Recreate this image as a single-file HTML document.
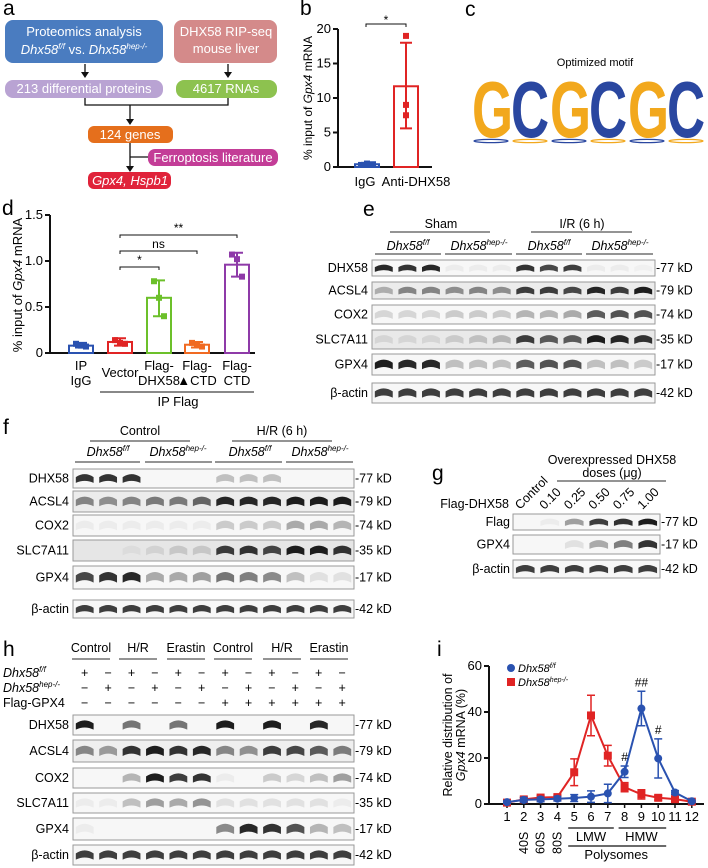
<!DOCTYPE html>
<html><head><meta charset="utf-8"><style>
body{margin:0;background:#fff}
svg{font-family:"Liberation Sans",Arial,sans-serif;display:block}
.pl{font-size:21px}
</style></head><body>
<svg id="fig" width="708" height="868" viewBox="0 0 708 868">
<g>
<text class="pl" x="3" y="15">a</text>
<rect x="5" y="20" width="158" height="43" rx="8" fill="#4a7cc0"/>
<text x="84" y="36" fill="#fff" font-size="13" text-anchor="middle">Proteomics analysis</text>
<text x="84" y="54" fill="#fff" font-size="13" text-anchor="middle"><tspan font-style="italic">Dhx58<tspan font-size="8" dy="-5">f/f</tspan></tspan><tspan dy="5"> vs. </tspan><tspan font-style="italic">Dhx58<tspan font-size="8" dy="-5">hep-/-</tspan></tspan></text>
<rect x="174" y="20" width="103" height="43" rx="8" fill="#d48a8a"/>
<text x="226" y="36" fill="#fff" font-size="13" text-anchor="middle">DHX58 RIP-seq</text>
<text x="226" y="53" fill="#fff" font-size="13" text-anchor="middle">mouse liver</text>
<rect x="5" y="80" width="158" height="18" rx="8" fill="#b9a3d3"/>
<text x="84" y="93" fill="#fff" font-size="13" text-anchor="middle">213 differential proteins</text>
<rect x="176" y="80" width="101" height="18" rx="8" fill="#8dc24f"/>
<text x="226" y="93" fill="#fff" font-size="13" text-anchor="middle">4617 RNAs</text>
<g stroke="#111" stroke-width="1.3" fill="none">
<path d="M85 64V74M228 64V74M85 98V105H228V98M130 105V119M130 143V166M130 157H148"/>
</g>
<g fill="#111">
<path d="M81 72h8l-4 6z M224 72h8l-4 6z M126 119h8l-4 6z M126 166h8l-4 6z"/>
</g>
<rect x="88" y="126" width="85" height="17" rx="6" fill="#e56f1c"/>
<text x="130" y="139" fill="#fff" font-size="13" text-anchor="middle">124 genes</text>
<rect x="148" y="149" width="130" height="17" rx="7" fill="#c33d97"/>
<text x="213" y="162" fill="#fff" font-size="13" text-anchor="middle">Ferroptosis literature</text>
<rect x="88" y="172" width="83" height="17" rx="6" fill="#e0233a"/>
<text x="130" y="185" fill="#fff" font-size="13" font-style="italic" text-anchor="middle">Gpx4, Hspb1</text>
</g>
<text class="pl" x="300" y="15">b</text>
<g id="pb"></g>
<g>
<text class="pl" x="465" y="16" font-size="15">c</text>
<text x="595" y="66" font-size="11" text-anchor="middle">Optimized motif</text>
<g id="motif" font-weight="bold" font-size="80"></g>
</g>
<text class="pl" x="2" y="215">d</text>
<g id="pd"></g>
<text class="pl" x="363" y="216">e</text>
<g id="pe"></g>
<text class="pl" x="3" y="434">f</text>
<g id="pf"></g>
<text class="pl" x="432" y="480">g</text>
<g id="pg"></g>
<text class="pl" x="3" y="656">h</text>
<g id="ph"></g>
<text class="pl" x="437" y="656">i</text>
<g id="pi"></g>
</svg>
<script>
// ---- data ----
const bCats=["IgG","Anti-DHX58"];
const bMeans=[0.4,11.7];
const bErrLo=[0.2,5.6];
const bErrHi=[0.6,18];
const bPts=[[0.3,0.5,0.4],[19,9,7.5]];
const bTicks=[0,5,10,15,20];

const dCats=["IP IgG","Vector","Flag-DHX58","Flag-▲CTD","Flag-CTD"];
const dMeans=[0.08,0.12,0.6,0.09,0.96];
const dErrLo=[0.06,0.08,0.4,0.06,0.83];
const dErrHi=[0.11,0.16,0.79,0.12,1.09];
const dPts=[[0.1,0.08,0.07],[0.14,0.11,0.1],[0.78,0.6,0.4],[0.11,0.09,0.07],[1.07,1.02,0.83]];
const dTicks=[0,0.5,1.0,1.5];

const iFractions=[1,2,3,4,5,6,7,8,9,10,11,12];
const iFF=[0.8,1.8,2,2.3,2.6,3.2,4.6,14,41.5,19.8,5,1.2];
const iFFerr=[0.5,1,1,1,1.5,2.5,4,2.5,7.5,8.5,0.8,0.5];
const iHep=[0.6,2,2.8,3,13.8,38.5,21,7.3,4.2,2.7,2.1,1];
const iHepErr=[0.5,0.8,0.8,0.8,5.8,8.8,4.5,2,2,1,0.5,0.3];
const iTicks=[0,20,40,60];

const NS="http://www.w3.org/2000/svg";
function mk(p,tag,at,txt){const e=document.createElementNS(NS,tag);for(const k in at)e.setAttribute(k,at[k]);if(txt!==undefined)e.textContent=txt;p.appendChild(e);return e;}

// ---- panel b ----
(function(){
const g=document.getElementById('pb');
const y=v=>167-v*(138/20);
const xc=[367,406];
let ax=mk(g,'path',{d:'M338 29V167H432',stroke:'#111','stroke-width':2,fill:'none'});

bTicks.forEach(t=>{let l=mk(g,'path',{d:`M333 ${y(t)}H338`,stroke:'#111','stroke-width':2});

let tx=mk(g,'text',{x:331,y:y(t)+4,'font-size':13,'text-anchor':'end'},t);
});
const cols=['#2a52b0','#e02424'];
bCats.forEach((c,i)=>{
let r=mk(g,'rect',{x:xc[i]-12,y:y(bMeans[i]),width:24,height:y(0)-y(bMeans[i]),fill:'none',stroke:cols[i],'stroke-width':2});

let e=mk(g,'path',{d:`M${xc[i]} ${y(bErrLo[i])}V${y(bErrHi[i])}M${xc[i]-6} ${y(bErrLo[i])}h12M${xc[i]-6} ${y(bErrHi[i])}h12`,stroke:cols[i],'stroke-width':2});

bPts[i].forEach((p,j)=>{let s=mk(g,'rect',{x:xc[i]-3+(j-1)*(i?0:6),y:y(p)-3,width:6,height:6,fill:cols[i]});
});
let tx=mk(g,'text',{x:xc[i]+(i?10:-2),y:186,'font-size':13,'text-anchor':'middle'},c);

});
let br=mk(g,'path',{d:'M366 27V24H406V27',stroke:'#111',fill:'none'});

let st=mk(g,'text',{x:386,y:24,'font-size':12,'text-anchor':'middle'},'*');

let yl=mk(g,'text',{transform:'translate(312 98) rotate(-90)','font-size':12,'text-anchor':'middle'});
yl.innerHTML='% input of <tspan font-style="italic">Gpx4</tspan> mRNA';

})();

// ---- motif ----
(function(){
const g=document.getElementById('motif');
const L="GCGCGC";
for(let i=0;i<6;i++){const col=L[i]=='G'?'#f2a81d':'#2a47a0';
let t=mk(g,'text',{transform:`translate(${472+i*39} 137) scale(0.66 1)`,fill:col},L[i]);

let e=mk(g,'ellipse',{cx:491+i*39,cy:141,rx:17,ry:1.6,fill:'none',stroke:i%2?'#f2a81d':'#2a47a0','stroke-width':1.3});
}
})();

// ---- panel d ----
(function(){
const g=document.getElementById('pd');
const y=v=>353-v*(138/1.5);
const xc=[81,120,159,197,237];
const cols=['#2a52b0','#e02424','#6cc02a','#f06a22','#8e3aa8'];
let ax=mk(g,'path',{d:'M50 215V353H255',stroke:'#111','stroke-width':2,fill:'none'});

dTicks.forEach(t=>{let l=mk(g,'path',{d:`M45 ${y(t)}H50`,stroke:'#111','stroke-width':2});

let tx=mk(g,'text',{x:43,y:y(t)+4,'font-size':13,'text-anchor':'end'},t===0?'0':t.toFixed(1));
});
dCats.forEach((c,i)=>{
let r=mk(g,'rect',{x:xc[i]-12,y:y(dMeans[i]),width:24,height:y(0)-y(dMeans[i]),fill:'none',stroke:cols[i],'stroke-width':2});

let e=mk(g,'path',{d:`M${xc[i]} ${y(dErrLo[i])}V${y(dErrHi[i])}M${xc[i]-6} ${y(dErrLo[i])}h12M${xc[i]-6} ${y(dErrHi[i])}h12`,stroke:cols[i],'stroke-width':2});

dPts[i].forEach((p,j)=>{let s=mk(g,'rect',{x:xc[i]-3+(j-1)*5,y:y(p)-3,width:6,height:6,fill:cols[i]});
});
let lines=c=="IP IgG"?["IP","IgG"]:c=="Vector"?["Vector"]:["Flag-",c.slice(5)];
lines.forEach((ln,k)=>{let tx=mk(g,'text',{x:xc[i],y:(lines.length==1?377:370+k*15),'font-size':13,'text-anchor':'middle'},ln);
});
});
let ipl=mk(g,'path',{d:'M100 392H254',stroke:'#111'});
let ipt=mk(g,'text',{x:178,y:406,'font-size':13,'text-anchor':'middle'},'IP Flag');
[[159,267,'*'],[197,251,'ns'],[237,235,'**']].forEach(b=>{
let p=mk(g,'path',{d:`M120 ${b[1]+3}V${b[1]}H${b[0]}V${b[1]+3}`,stroke:'#111',fill:'none'});

let t=mk(g,'text',{x:(120+b[0])/2,y:b[1]-3,'font-size':12,'text-anchor':'middle'},b[2]);
});
let yl=mk(g,'text',{transform:'translate(22 285) rotate(-90)','font-size':13,'text-anchor':'middle'});
yl.innerHTML='% input of <tspan font-style="italic">Gpx4</tspan> mRNA';

})();

// ---- blots ----
function blot(g,x0,x1,rows,lanes,labelX,kdX){
const w=(x1-x0)/lanes;
rows.forEach(r=>{
let bg=mk(g,'rect',{x:x0,y:r.y0,width:x1-x0,height:r.y1-r.y0,fill:r.bg||'#f7f7f7',stroke:'#999','stroke-width':1});

const h=(r.y1-r.y0), cy=(r.y0+r.y1)/2+1;
r.v.forEach((v,i)=>{if(v<=0)return;
const bx=x0+i*w+w*0.12, bw=w*0.76, bh=Math.max(3,h*0.36), m=bx+bw/2;
let b=mk(g,'path',{d:`M${bx} ${cy+bh/2}Q${m} ${cy-bh*0.1} ${bx+bw} ${cy+bh/2}L${bx+bw} ${cy-bh/2+1}Q${m} ${cy-bh*1.2} ${bx} ${cy-bh/2+1}Z`,fill:'#111','fill-opacity':v*0.95});
});
let lb=mk(g,'text',{x:labelX,y:cy+3,'font-size':12.5,'text-anchor':'end'},r.name);

let kd=mk(g,'text',{x:kdX,y:cy+3,'font-size':12.5},'-'+r.kd+' kD');

});}
function hdr(g,x,y,t,ital){const e=mk(g,'text',{x:x,y:y,'font-size':12.5,'text-anchor':'middle'});
if(ital)e.innerHTML='<tspan font-style="italic">Dhx58<tspan font-size="8" dy="-5">'+t+'</tspan></tspan>';else e.textContent=t;
return e;}
function ln(g,x0,x1,y){const l=mk(g,'path',{d:`M${x0} ${y}H${x1}`,stroke:'#555','stroke-width':1.2});
}
const A=0.85, act=Array(12).fill(A);

// e
(function(){const g=document.getElementById('pe');
hdr(g,441,228,'Sham');ln(g,390,490,232);hdr(g,582,228,'I/R (6 h)');ln(g,531,632,232);
[[408,'f/f'],[479,'hep-/-'],[549,'f/f'],[620,'hep-/-']].forEach(a=>hdr(g,a[0],250,a[1],true));
[[375,441],[445,512],[516,582],[586,653]].forEach(a=>ln(g,a[0],a[1],254));
blot(g,372,655,[
{name:'DHX58',kd:77,y0:260,y1:276,v:[.95,.9,.95,.05,.05,.05,.9,.8,.85,.05,.05,.03]},
{name:'ACSL4',kd:79,y0:282,y1:299,bg:'#ececec',v:[.3,.5,.5,.45,.5,.45,.85,.85,.8,.95,.85,1]},
{name:'COX2',kd:74,y0:305,y1:324,v:[.15,.15,.15,.2,.2,.2,.3,.3,.35,.7,.75,.75]},
{name:'SLC7A11',kd:35,y0:330,y1:349,bg:'#e9e9e9',v:[.1,.1,.1,.15,.2,.25,.85,.7,.7,1,.95,.9]},
{name:'GPX4',kd:17,y0:354,y1:375,v:[1,.95,.95,.25,.25,.25,.7,.75,.75,.25,.25,.2]},
{name:'β-actin',kd:42,y0:383,y1:403,v:act}],12,368,656);})();

// f
(function(){const g=document.getElementById('pf');
hdr(g,140,435,'Control');ln(g,90,190,441);hdr(g,282,435,'H/R (6 h)');ln(g,232,332,441);
[[108,'f/f'],[178,'hep-/-'],[250,'f/f'],[320,'hep-/-']].forEach(a=>hdr(g,a[0],456,a[1],true));
[[75,140],[145,212],[215,282],[286,353]].forEach(a=>ln(g,a[0],a[1],462));
blot(g,73,354,[
{name:'DHX58',kd:77,y0:469,y1:488,v:[.9,.9,.9,0,0,0,.25,.25,.25,0,0,0]},
{name:'ACSL4',kd:79,y0:491,y1:512,bg:'#ececec',v:[.5,.45,.5,.55,.55,.65,.95,.95,.95,1,1,1]},
{name:'COX2',kd:74,y0:515,y1:536,v:[.05,.05,.05,.05,.05,.05,.2,.2,.2,.35,.35,.3]},
{name:'SLC7A11',kd:35,y0:540,y1:561,bg:'#e6e6e6',v:[0,0,.05,.1,.15,.15,.85,.9,.8,1,1,.9]},
{name:'GPX4',kd:17,y0:566,y1:589,v:[.8,.9,.95,.35,.35,.4,.6,.55,.5,.25,.1,.1]},
{name:'β-actin',kd:42,y0:600,y1:618,v:act}],12,69,355);})();

// g
(function(){const g=document.getElementById('pg');
hdr(g,612,464,'Overexpressed DHX58');hdr(g,612,477,'doses (μg)');ln(g,557,666,481);
['Control','0.10','0.25','0.50','0.75','1.00'].forEach((t,i)=>{const x=520+i*24.5;
let e=mk(g,'text',{transform:`translate(${x} 510) rotate(-45)`,'font-size':12.5},t);
});
let fl=mk(g,'text',{x:509,y:508,'font-size':12.5,'text-anchor':'end'},'Flag-DHX58');

blot(g,513,660,[
{name:'Flag',kd:77,y0:514,y1:530,v:[0,.05,.4,.85,.9,1]},
{name:'GPX4',kd:17,y0:535,y1:554,v:[0,0,.1,.35,.55,.9]},
{name:'β-actin',kd:42,y0:560,y1:578,v:Array(6).fill(A)}],6,510,661);})();

// h
(function(){const g=document.getElementById('ph');
[[91,'Control'],[138,'H/R'],[186,'Erastin'],[233,'Control'],[282,'H/R'],[329,'Erastin']].forEach(a=>{hdr(g,a[0],652,a[1]);ln(g,a[0]-19,a[0]+19,659);});
const ff=['+','−','+','−','+','−','+','−','+','−','+','−'];
const hp=['−','+','−','+','−','+','−','+','−','+','−','+'];
const fg=['−','−','−','−','−','−','+','+','+','+','+','+'];
hdr(g,34,677,'f/f',true).setAttribute('text-anchor','start');
g.lastChild.setAttribute('x',3);
hdr(g,34,692,'hep-/-',true);g.lastChild.setAttribute('text-anchor','start');g.lastChild.setAttribute('x',3);
let fgl=mk(g,'text',{x:3,y:707,'font-size':12.5},'Flag-GPX4');
[ff,hp,fg].forEach((arr,k)=>arr.forEach((s,i)=>{let t=mk(g,'text',{x:84.7+i*23.4,y:677+k*15,'font-size':12.5,'text-anchor':'middle'},s);
}));
blot(g,73,354,[
{name:'DHX58',kd:77,y0:715,y1:735,v:[1,0,.6,0,.6,0,1,0,1,0,.95,0]},
{name:'ACSL4',kd:79,y0:740,y1:762,bg:'#efefef',v:[.5,.4,.9,1,.9,.95,.5,.45,.85,.8,.7,.55]},
{name:'COX2',kd:74,y0:768,y1:788,v:[0,0,.3,1,.85,.9,.05,0,.2,.15,.25,.4]},
{name:'SLC7A11',kd:35,y0:793,y1:813,v:[.05,.05,.25,.4,.35,.45,.1,.1,.1,.1,.1,.05]},
{name:'GPX4',kd:17,y0:818,y1:840,v:[.05,0,0,0,0,0,.5,.95,.9,.75,.3,.25]},
{name:'β-actin',kd:42,y0:845,y1:865,v:act}],12,69,355);})();

// ---- panel i ----
(function(){
const g=document.getElementById('pi');
const x=f=>507+(f-1)*16.8;
const y=v=>804-v*(138/60);
let ax=mk(g,'path',{d:'M489 666V804H704',stroke:'#111','stroke-width':2,fill:'none'});

iTicks.forEach(t=>{let l=mk(g,'path',{d:`M484 ${y(t)}H489`,stroke:'#111','stroke-width':2});

let tx=mk(g,'text',{x:482,y:y(t)+4,'font-size':13,'text-anchor':'end'},t);
});
iFractions.forEach(f=>{let tk=mk(g,'path',{d:`M${x(f)} 804v4`,stroke:'#111','stroke-width':1.5});

let t=mk(g,'text',{x:x(f),y:821,'font-size':13,'text-anchor':'middle'},f);
});
['40S','60S','80S'].forEach((s,i)=>{let t=mk(g,'text',{transform:`translate(${x(i+2)+4} 854) rotate(-90)`,'font-size':12.5},s);
});
[[x(5)-6,x(7)+6,828],[x(8)-6,x(10)+8,828],[x(5)-6,x(10)+8,846]].forEach(a=>{let l=mk(g,'path',{d:`M${a[0]} ${a[2]}H${a[1]}`,stroke:'#111','stroke-width':1.2});
});
[[x(6),841,'LMW'],[x(9),841,'HMW'],[x(7.5),859,'Polysomes']].forEach(a=>{let t=mk(g,'text',{x:a[0],y:a[1],'font-size':13,'text-anchor':'middle'},a[2]);
});
function series(vals,errs,col,sq,nm){
let p=mk(g,'polyline',{points:vals.map((v,i)=>x(iFractions[i])+','+y(v)).join(' '),fill:'none',stroke:col,'stroke-width':2});

vals.forEach((v,i)=>{const cx=x(iFractions[i]);
let e=mk(g,'path',{d:`M${cx} ${y(v-errs[i])}V${y(v+errs[i])}M${cx-4} ${y(v-errs[i])}h8M${cx-4} ${y(v+errs[i])}h8`,stroke:col,'stroke-width':1.5});

let m=sq?mk(g,'rect',{x:cx-4,y:y(v)-4,width:8,height:8,fill:col}):mk(g,'circle',{cx:cx,cy:y(v),r:4,fill:col});
});}
series(iHep,iHepErr,'#e02424',true,'hep');
series(iFF,iFFerr,'#2a52b0',false,'ff');
[[8,'#'],[9,'##'],[10,'#']].forEach(a=>{const i=a[0]-1;let t=mk(g,'text',{x:x(a[0]),y:y(iFF[i]+iFFerr[i])-5,'font-size':12,'text-anchor':'middle'},a[1]);
});
let c=mk(g,'circle',{cx:511,cy:668,r:4,fill:'#2a52b0'});
let r=mk(g,'rect',{x:507,y:678,width:8,height:8,fill:'#e02424'});
let l1=mk(g,'text',{x:518,y:672,'font-size':11});l1.innerHTML='<tspan font-style="italic">Dhx58<tspan font-size="7" dy="-4">f/f</tspan></tspan>';

let l2=mk(g,'text',{x:518,y:686,'font-size':11});l2.innerHTML='<tspan font-style="italic">Dhx58<tspan font-size="7" dy="-4">hep-/-</tspan></tspan>';

let y1=mk(g,'text',{transform:'translate(452 735) rotate(-90)','font-size':12.5,'text-anchor':'middle'},'Relative distribution of');

let y2=mk(g,'text',{transform:'translate(465 735) rotate(-90)','font-size':12.5,'text-anchor':'middle'});
y2.innerHTML='<tspan font-style="italic">Gpx4</tspan> mRNA (%)';

})();
</script>
</body></html>
